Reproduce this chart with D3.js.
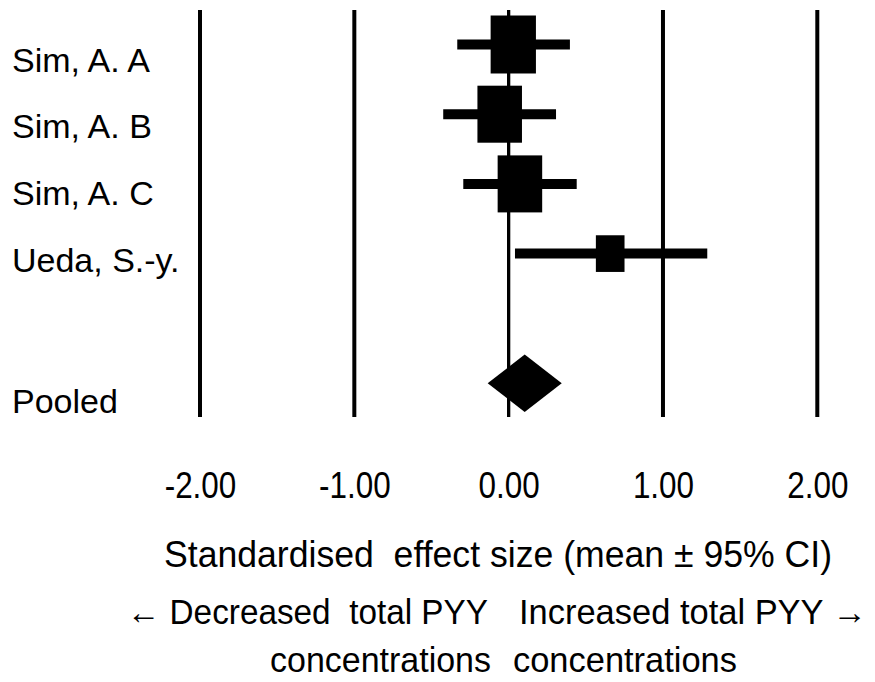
<!DOCTYPE html>
<html>
<head>
<meta charset="utf-8">
<script src="https://cdn.jsdelivr.net/npm/d3@7/dist/d3.min.js"></script>
<style>
  html, body { margin: 0; padding: 0; background: #fff; }
  svg { display: block; }
  text { font-family: "Liberation Sans", Arial, sans-serif; fill: #000; }
</style>
</head>
<body>
<svg id="chart" width="875" height="682"></svg>
<script>
// Study-level standardised effect sizes (mean with 95% CI) and relative weights (%)
const studies = ["Sim, A. A", "Sim, A. B", "Sim, A. C", "Ueda, S.-y."];
const means   = [0.030, -0.058, 0.073, 0.658];
const lower   = [-0.333, -0.424, -0.294, 0.041];
const upper   = [0.397, 0.307, 0.441, 1.287];
const weights = [30, 29, 29, 12];

// Pooled estimate
const pooledLabel = "Pooled";
const pooledMean  = 0.104;
const pooledLower = -0.136;
const pooledUpper = 0.344;

// Axis
const tickValues = [-2, -1, 0, 1, 2];
const tickLabels = ["-2.00", "-1.00", "0.00", "1.00", "2.00"];
const axisTitle  = "Standardised  effect size (mean \u00B1 95% CI)";
const leftNote   = ["\u2190 Decreased  total PYY", "concentrations"];
const rightNote  = ["Increased total PYY \u2192", "concentrations"];

const svg = d3.select("#chart");

const x = d3.scaleLinear().domain([-2, 2]).range([200, 817.3]);
const rowY = d3.scaleLinear().domain([0, 1]).range([44.5, 114.2]);
const pooledRow = 4.86;
const plotTop = 10, plotBottom = 417;

// box width follows sqrt of study weight; boxes are drawn slightly taller than wide
const boxW = d3.scaleSqrt().domain([0, 30]).range([0, 45.3]);
const boxAspect = 1.28;

// vertical reference lines at each tick
svg.append("g").selectAll("line")
  .data(tickValues)
  .join("line")
  .attr("x1", d => x(d)).attr("x2", d => x(d))
  .attr("y1", plotTop).attr("y2", plotBottom)
  .attr("stroke", "#000")
  .attr("stroke-width", d => d === 0 ? 3.3 : 4);

// confidence intervals
const rows = studies.map((s, i) => ({ s, i, m: means[i], lo: lower[i], hi: upper[i], w: weights[i] }));

svg.append("g").selectAll("line")
  .data(rows)
  .join("line")
  .attr("x1", d => x(d.lo)).attr("x2", d => x(d.hi))
  .attr("y1", d => rowY(d.i)).attr("y2", d => rowY(d.i))
  .attr("stroke", "#000")
  .attr("stroke-width", 10);

// weighted point estimates
svg.append("g").selectAll("rect")
  .data(rows)
  .join("rect")
  .attr("x", d => x(d.m) - boxW(d.w) / 2)
  .attr("y", d => rowY(d.i) - boxW(d.w) * boxAspect / 2)
  .attr("width", d => boxW(d.w))
  .attr("height", d => boxW(d.w) * boxAspect)
  .attr("fill", "#000");

// pooled diamond
const py = rowY(pooledRow);
const halfH = 28.7;
svg.append("path")
  .attr("d", `M${x(pooledLower)},${py} L${x(pooledMean)},${py - halfH} L${x(pooledUpper)},${py} L${x(pooledMean)},${py + halfH} Z`)
  .attr("fill", "#000");

// study labels
const labelY = d3.scalePoint().domain(studies).range([71.7, 271.7]);
svg.append("g").selectAll("text")
  .data(studies)
  .join("text")
  .attr("x", 12)
  .attr("y", d => labelY(d))
  .attr("font-size", 34)
  .text(d => d);

svg.append("text")
  .attr("x", 12).attr("y", 412.7)
  .attr("font-size", 34)
  .text(pooledLabel);

// tick labels on the bottom axis
const axis = d3.axisBottom(x)
  .tickValues(tickValues)
  .tickFormat((d, i) => tickLabels[i])
  .tickSize(0);

const axisG = svg.append("g")
  .attr("transform", "translate(0,498)")
  .call(axis);
axisG.select(".domain").remove();
axisG.selectAll("text")
  .attr("y", 0).attr("dy", null)
  .attr("font-size", 37)
  .attr("font-family", "'Liberation Sans', Arial, sans-serif")
  .attr("fill", "#000")
  .each(function () {
    const len = this.getComputedTextLength();
    d3.select(this).attr("textLength", len * 0.85).attr("lengthAdjust", "spacingAndGlyphs");
  });

// condensed text helper: fit text between two x positions
function fitText(str, x0, x1, baseline, size) {
  svg.append("text")
    .attr("x", x0).attr("y", baseline)
    .attr("font-size", size)
    .attr("textLength", x1 - x0)
    .attr("lengthAdjust", "spacingAndGlyphs")
    .style("white-space", "pre")
    .text(str);
}

fitText(axisTitle, 164, 832, 567, 36);
fitText(leftNote[0], 127, 488, 624, 35);
fitText(rightNote[0], 519, 867, 624, 35);
fitText(leftNote[1], 270, 491, 672, 35);
fitText(rightNote[1], 513, 737, 672, 35);
</script>
</body>
</html>
